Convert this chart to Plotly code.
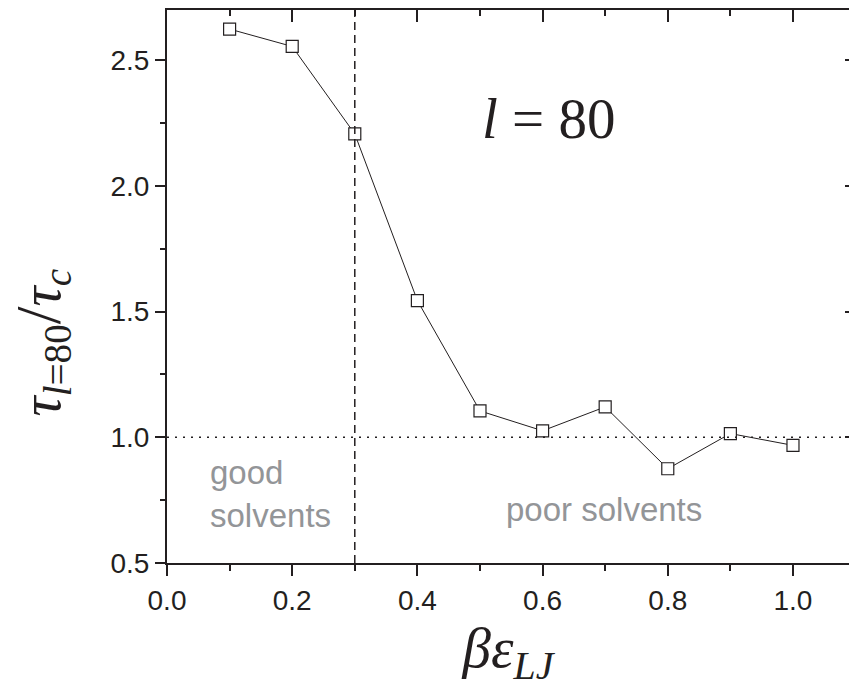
import plotly.graph_objects as go

# Relaxation-time ratio vs. interaction strength, chain length l = 80
beta_eps = [0.1, 0.2, 0.3, 0.4, 0.5, 0.6, 0.7, 0.8, 0.9, 1.0]
tau_ratio = [2.624, 2.555, 2.207, 1.544, 1.105, 1.026, 1.121, 0.875, 1.015, 0.968]

x_ticks = [0.0, 0.2, 0.4, 0.6, 0.8, 1.0]
x_tick_text = ["0.0", "0.2", "0.4", "0.6", "0.8", "1.0"]
y_ticks = [0.5, 1.0, 1.5, 2.0, 2.5]
y_tick_text = ["0.5", "1.0", "1.5", "2.0", "2.5"]

solvent_boundary = 0.3   # theta-point separating good / poor solvents
unit_ratio = 1.0         # tau_l / tau_c = 1 reference level

X_RANGE = [0, 1.0895]
Y_RANGE = [0.5, 2.7]

INK = "#231f20"
GREY = "#939598"
SANS = "Liberation Sans, Arial, sans-serif"
SERIF = "Liberation Serif, Times New Roman, serif"

fig = go.Figure()

fig.add_trace(go.Scatter(
    x=beta_eps, y=tau_ratio,
    mode="lines+markers",
    line=dict(color=INK, width=1),
    marker=dict(symbol="square", size=12, color="white",
                line=dict(color=INK, width=1.2)),
    showlegend=False, hoverinfo="x+y",
))

# invisible trace so the top / right mirror axes get drawn
fig.add_trace(go.Scatter(
    x=beta_eps, y=tau_ratio, xaxis="x2", yaxis="y2",
    mode="markers", marker=dict(opacity=0), showlegend=False, hoverinfo="skip",
))

fig.add_vline(x=solvent_boundary, line=dict(color=INK, width=1.5, dash="8px,5px"))
fig.add_hline(y=unit_ratio, line=dict(color=INK, width=1.5, dash="2px,6px"))

fig.add_annotation(x=0.065, y=0.775, xref="x", yref="y", text="good<br>solvents",
                   showarrow=False, xanchor="left", yanchor="middle", align="left",
                   font=dict(family=SANS, size=33, color=GREY))
fig.add_annotation(x=0.698, y=0.713, xref="x", yref="y", text="poor solvents",
                   showarrow=False, xanchor="center", yanchor="middle",
                   font=dict(family=SANS, size=33, color=GREY))
fig.add_annotation(x=0.611, y=2.27, xref="x", yref="y", text="<i>l</i> = 80",
                   showarrow=False, xanchor="center", yanchor="middle",
                   font=dict(family=SERIF, size=57, color=INK))

# y-axis title, rotated, to the left of the tick labels
fig.add_annotation(
    x=-0.184, y=0.398, xref="paper", yref="paper", textangle=-90,
    text=("<i>τ</i><sub><i>l</i>=80</sub>"
          "<span style='font-size:64px'>/</span>"
          "<i>τ</i><sub><i>c</i></sub>"),
    showarrow=False, xanchor="center", yanchor="middle",
    font=dict(family=SERIF, size=56, color=INK))

axis_common = dict(showgrid=False, zeroline=False, linecolor=INK, linewidth=2,
                   tickcolor=INK, tickwidth=2)

fig.update_layout(
    width=849, height=700,
    margin=dict(l=167, r=0, t=10, b=137),
    paper_bgcolor="white", plot_bgcolor="white",
    xaxis=dict(**axis_common, range=X_RANGE, showline=True,
               tickmode="array", tickvals=x_ticks, ticktext=x_tick_text,
               ticks="outside", ticklen=11,
               minor=dict(dtick=0.1, tick0=0, ticks="outside", ticklen=6,
                          tickwidth=2, tickcolor=INK),
               tickfont=dict(family=SANS, size=28, color=INK),
               title=dict(text="<i>βε</i><sub><i>LJ</i></sub>",
                          font=dict(family=SERIF, size=57, color=INK),
                          standoff=12)),
    yaxis=dict(**axis_common, range=Y_RANGE, showline=True,
               tickmode="array", tickvals=y_ticks, ticktext=y_tick_text,
               ticks="outside", ticklen=10,
               minor=dict(dtick=0.25, tick0=0.5, ticks="outside", ticklen=5,
                          tickwidth=2, tickcolor=INK),
               tickfont=dict(family=SANS, size=28, color=INK)),
    xaxis2=dict(**axis_common, range=X_RANGE, overlaying="x", side="top",
                anchor="y2", showline=True, showticklabels=False,
                tickmode="array", tickvals=x_ticks,
                ticks="inside", ticklen=12,
                minor=dict(dtick=0.1, tick0=0, ticks="inside", ticklen=6,
                           tickwidth=2, tickcolor=INK)),
    yaxis2=dict(**axis_common, range=Y_RANGE, overlaying="y", side="right",
                anchor="x2", showline=False, showticklabels=False,
                tickmode="array", tickvals=y_ticks,
                ticks="inside", ticklen=4),
)

fig.write_html("out.html")
